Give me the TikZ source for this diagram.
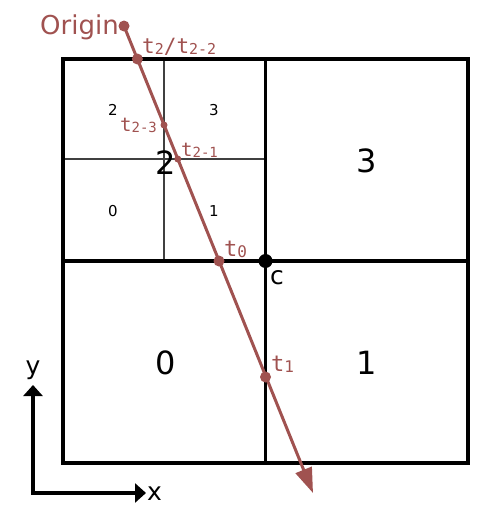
\documentclass[tikz,border=0pt]{standalone}
\usepackage{fontspec}
\setmainfont{DejaVu Sans}
\newfontfamily\monofont{DejaVu Sans Mono}
\usetikzlibrary{arrows.meta}
\definecolor{rayc}{RGB}{160,82,80}
\newcommand\tsub[2]{\raisebox{-1pt}{\fontsize{#1}{#1}\selectfont #2}}
\begin{document}
\begin{tikzpicture}[x=1pt,y=-1pt,
  frameline/.style={line width=3.6pt, black},
  gridline/.style={line width=1.7pt, black!75},
  bigpt/.style={circle, fill=rayc, inner sep=0pt, minimum size=11pt},
  smallpt/.style={circle, fill=rayc, inner sep=0pt, minimum size=7pt},
  bignum/.style={font=\fontsize{32}{32}\selectfont, inner sep=0pt},
  smallnum/.style={font=\fontsize{15}{15}\selectfont, inner sep=0pt},
  raylabel/.style={text=rayc, inner sep=0pt, anchor=base west},
  axislabel/.style={font=\fontsize{25}{25}\selectfont, inner sep=0pt}]
\useasboundingbox (0,0) rectangle (498,530);
% grid
\draw[gridline] (164,59) -- (164,261);
\draw[gridline] (63,159) -- (265.5,159);
\draw[frameline] (63,59) rectangle (468,463);
\draw[frameline] (265.5,59) -- (265.5,463);
\draw[frameline] (63,261) -- (468,261);
% numbers
\node[bignum] (q2) at (166,163) {2};
\node[bignum] (q3) at (367,161) {3};
\node[bignum] (q0) at (166,363) {0};
\node[bignum] (q1) at (367,363) {1};
\node[smallnum] (s2) at (113,110) {2};
\node[smallnum] (s3) at (214,110) {3};
\node[smallnum] (s0) at (113,211) {0};
\node[smallnum] (s1) at (214,211) {1};
% center
\node[circle, fill=black, inner sep=0pt, minimum size=14pt] (c) at (265.5,261) {};
\node[axislabel, anchor=base west] (clab) at (270,284) {c};
% ray
\node[bigpt] (o) at (124,26) {};
\coordinate (rend) at (313,493);
\draw[rayc, line width=3pt, -{Triangle[length=25pt,width=17pt]}] (o.center) -- (rend);
\node[bigpt] (t2) at (137.4,59) {};
\node[smallpt] (t23) at (164,125) {};
\node[smallpt] (t21) at (177.8,159) {};
\node[bigpt] (t0) at (219,261) {};
\node[bigpt] (t1) at (265.5,377) {};
% ray labels
\node[raylabel, anchor=base east, font=\fontsize{26}{26}\selectfont] (olab) at (119,34) {Origin};
\node[raylabel, font=\monofont\fontsize{21}{21}\selectfont] (t2lab) at (142,53) {t\tsub{15}{2}/t\tsub{15}{2-2}};
\node[raylabel, font=\monofont\fontsize{19}{19}\selectfont] (t23lab) at (120,131) {t\tsub{14}{2-3}};
\node[raylabel, font=\monofont\fontsize{19}{19}\selectfont] (t21lab) at (181,156) {t\tsub{14}{2-1}};
\node[raylabel, font=\monofont\fontsize{22}{22}\selectfont] (t0lab) at (224,256) {t\tsub{16}{0}};
\node[raylabel, font=\monofont\fontsize{22}{22}\selectfont] (t1lab) at (271,371) {t\tsub{16}{1}};
% axes
\coordinate (ax0) at (33,493);
\coordinate (axy) at (33,385);
\coordinate (axx) at (146,493);
\draw[line width=3.2pt, {Triangle[length=11pt,width=19pt]}-{Triangle[length=11pt,width=19pt]}] (axy) -- (ax0) -- (axx);
\node[axislabel, anchor=south] (ylab) at (33,380) {y};
\node[axislabel, anchor=west] (xlab) at (147,494) {x};
\end{tikzpicture}
\end{document}
